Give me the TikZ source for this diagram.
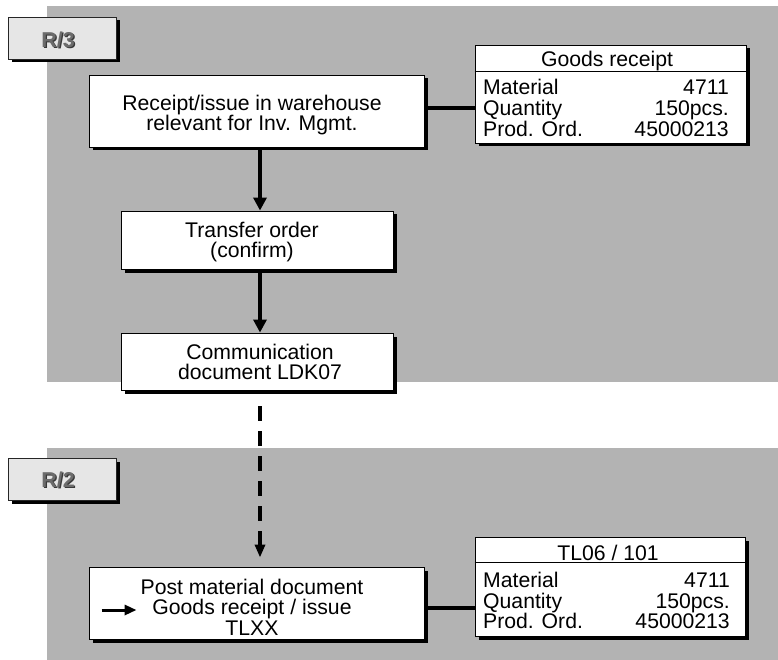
\documentclass[tikz,border=0pt]{standalone}
\usepackage{fontspec}
\setmainfont{Liberation Sans}
\usetikzlibrary{shadows,arrows.meta}

\definecolor{panelgray}{HTML}{B3B3B3}
\definecolor{tabgray}{HTML}{E6E6E6}
\definecolor{tabtext}{HTML}{6C6C6C}
\definecolor{tabshadow}{HTML}{383838}

\begin{document}
\begin{tikzpicture}[x=1pt,y=-1pt,
  txt/.style={font=\fontsize{21.2}{20.5}\selectfont, inner sep=0pt},
  shade3/.style={drop shadow={shadow xshift=3.5pt, shadow yshift=-3.5pt, fill=black, opacity=1}},
  procbox/.style={draw=black, line width=0.9pt, fill=white, shade3, inner sep=0pt},
  tabbox/.style={draw=black!85, line width=0.9pt, fill=tabgray, shade3, inner sep=0pt,
                 minimum width=108pt, minimum height=42pt},
  tablabel/.style={font=\fontsize{21.5}{21.5}\selectfont\bfseries, inner sep=0pt},
  flow/.style={line width=4pt, -{Triangle[width=13pt,length=13pt]}},
  link/.style={line width=4pt},
  hrule/.style={line width=0.9pt},
]
\useasboundingbox (0,0) rectangle (778,660);

% system panels
\fill[panelgray] (47,6) rectangle (778,382);
\fill[panelgray] (47,448) rectangle (778,660);

% system tabs, with embossed labels
\node[tabbox] (tabR3) at (62,38) {};
\node[tablabel, text=tabshadow] at (59.3,41.3) {R/3};
\node[tablabel, text=tabtext] (tR3) at (58,40) {R/3};
\node[tabbox] (tabR2) at (62,479) {};
\node[tablabel, text=tabshadow] at (59.3,481.3) {R/2};
\node[tablabel, text=tabtext] (tR2) at (58,480) {R/2};

% process boxes
\node[procbox, minimum width=335pt, minimum height=72pt] (recv) at (256.5,111) {};
\node[txt, align=center] (recvT) at (252,115.2) {Receipt/issue in warehouse\\relevant for Inv. Mgmt.};

\node[procbox, minimum width=272pt, minimum height=58pt] (xfer) at (257,240) {};
\node[txt, align=center] (xferT) at (252,242) {Transfer order\\(confirm)};

\node[procbox, minimum width=272pt, minimum height=57pt] (comm) at (257,361.5) {};
\node[txt, align=center] (commT) at (260,361.9) {Communication\\document LDK07};

\node[procbox, minimum width=335pt, minimum height=72pt] (post) at (256.5,603) {};
\node[txt, align=center] (postT) at (252,606.9) {Post material document\\Goods receipt / issue\\TLXX};

% document data boxes
\node[procbox, minimum width=271pt, minimum height=98pt] (gr) at (610.5,94) {};
\draw[hrule] ([yshift=-27pt]gr.north west) -- ([yshift=-27pt]gr.north east);
\node[txt, anchor=base] (grH) at (607,67) {Goods receipt};
\node[txt, anchor=base west] (grL1) at (483,95) {Material};
\node[txt, anchor=base east] (grV1) at (729,95) {4711};
\node[txt, anchor=base west] (grL2) at (483,116) {Quantity};
\node[txt, anchor=base east] (grV2) at (729,116) {150pcs.};
\node[txt, anchor=base west] (grL3) at (483,137) {Prod. Ord.};
\node[txt, anchor=base east] (grV3) at (729,137) {45000213};

\node[procbox, minimum width=270pt, minimum height=99pt] (tl) at (610,586.5) {};
\draw[hrule] ([yshift=-26pt]tl.north west) -- ([yshift=-26pt]tl.north east);
\node[txt, anchor=base] (tlH) at (608,560) {TL06 / 101};
\node[txt, anchor=base west] (tlL1) at (483,587) {Material};
\node[txt, anchor=base east] (tlV1) at (730,587) {4711};
\node[txt, anchor=base west] (tlL2) at (483,608) {Quantity};
\node[txt, anchor=base east] (tlV2) at (730,608) {150pcs.};
\node[txt, anchor=base west] (tlL3) at (483,628) {Prod. Ord.};
\node[txt, anchor=base east] (tlV3) at (730,628) {45000213};

% connectors
\draw[flow] ([xshift=3.5pt]recv.south) -- ([xshift=3.5pt]recv.south |- xfer.north);
\draw[flow] ([xshift=3pt]xfer.south) -- ([xshift=3pt]xfer.south |- comm.north);
\draw[line width=4pt, dash pattern=on 15pt off 10pt, -{Triangle[width=10pt,length=13pt]}, shorten >=9pt]
  ([xshift=3pt,yshift=-16pt]comm.south) -- ([xshift=3pt]comm.south |- post.north);
\draw[link] ([xshift=3.5pt,yshift=3pt]recv.east) -- ([yshift=3pt]recv.east -| gr.west);
\draw[link] ([xshift=3.5pt,yshift=-5pt]post.east) -- ([yshift=-5pt]post.east -| tl.west);

% marker arrow inside the posting box
\coordinate (pa1) at ([xshift=13pt,yshift=-7pt]post.west);
\coordinate (pa2) at ([xshift=48pt,yshift=-7pt]post.west);
\draw[line width=3pt, -{Triangle[width=10pt,length=12pt]}] (pa1) -- (pa2);
\end{tikzpicture}
\end{document}
